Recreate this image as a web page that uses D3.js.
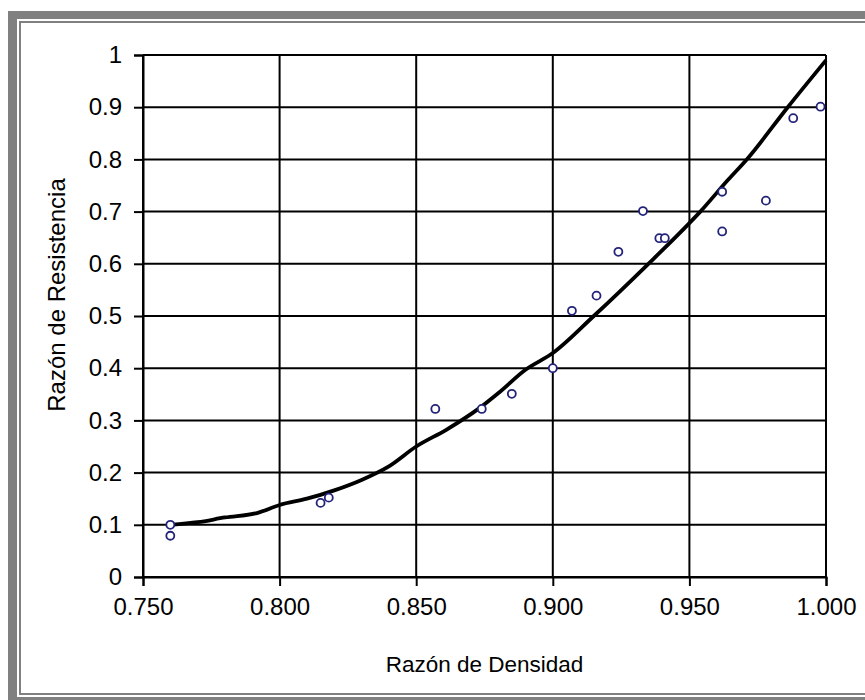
<!DOCTYPE html>
<html lang="es">
<head>
  <meta charset="UTF-8" />
  <title>Razón de Resistencia vs Razón de Densidad</title>
  <style>
    body {
      margin: 0;
      background: #fff;
    }
    svg {
      display: block;
      font-family: "Liberation Sans", Arial, sans-serif;
    }
  </style>
</head>
<body>
  <svg width="865" height="700"></svg>

  <script src="https://cdnjs.cloudflare.com/ajax/libs/d3/7.8.5/d3.min.js"></script>
  <script>
    // measured points (Razón de Densidad, Razón de Resistencia)
    const densidad = [0.760, 0.760, 0.815, 0.818, 0.857, 0.874, 0.885, 0.900,
                      0.907, 0.916, 0.924, 0.933, 0.939, 0.941, 0.962, 0.962,
                      0.978, 0.988, 0.998];
    const resistencia = [0.100, 0.079, 0.142, 0.152, 0.322, 0.322, 0.351, 0.400,
                         0.510, 0.539, 0.623, 0.701, 0.649, 0.649, 0.738, 0.662,
                         0.721, 0.879, 0.901];

    // fitted curve
    const curvaX = [0.760, 0.770, 0.780, 0.792, 0.800, 0.810, 0.820, 0.830, 0.840,
                    0.850, 0.861, 0.873, 0.880, 0.890, 0.900, 0.915, 0.935, 0.950,
                    0.954, 0.964, 0.971, 0.986, 1.000];
    const curvaY = [0.100, 0.105, 0.114, 0.123, 0.138, 0.150, 0.166, 0.186, 0.212,
                    0.250, 0.282, 0.323, 0.352, 0.397, 0.429, 0.500, 0.600, 0.678,
                    0.700, 0.760, 0.800, 0.900, 0.990];

    const xTicks = [0.75, 0.80, 0.85, 0.90, 0.95, 1.00];
    const yTicks = [0, 0.1, 0.2, 0.3, 0.4, 0.5, 0.6, 0.7, 0.8, 0.9, 1];

    const svg = d3.select("svg");

    // page frame (gray double border)
    svg.append("rect").attr("x", 8).attr("y", 11).attr("width", 900).attr("height", 720).attr("fill", "#808080");
    svg.append("rect").attr("x", 17).attr("y", 19).attr("width", 900).attr("height", 678).attr("fill", "#fff");
    svg.append("rect").attr("x", 19).attr("y", 21).attr("width", 900).attr("height", 674).attr("fill", "#808080");
    svg.append("rect").attr("x", 21).attr("y", 23).attr("width", 900).attr("height", 670).attr("fill", "#fff");

    const mLeft = 143, mRight = 826, mTop = 55, mBottom = 577;

    const x = d3.scaleLinear().domain([0.75, 1.0]).range([mLeft, mRight]);
    const y = d3.scaleLinear().domain([0, 1]).range([mBottom, mTop]);

    // gridlines
    const grid = svg.append("g").attr("stroke", "#000").attr("stroke-width", 2);
    grid.selectAll("line.v")
      .data(xTicks)
      .join("line")
      .attr("class", "v")
      .attr("x1", d => x(d)).attr("x2", d => x(d))
      .attr("y1", mTop).attr("y2", mBottom);
    grid.selectAll("line.h")
      .data(yTicks)
      .join("line")
      .attr("class", "h")
      .attr("x1", mLeft).attr("x2", mRight)
      .attr("y1", d => y(d)).attr("y2", d => y(d));

    // axes
    const xAxis = svg.append("g")
      .attr("transform", `translate(0,${mBottom})`)
      .call(d3.axisBottom(x).tickValues(xTicks).tickFormat(d3.format(".3f")).tickSize(9).tickPadding(12));
    const yAxis = svg.append("g")
      .attr("transform", `translate(${mLeft},0)`)
      .call(d3.axisLeft(y).tickValues(yTicks).tickFormat(d => String(+d.toFixed(1))).tickSize(9).tickPadding(12));

    [xAxis, yAxis].forEach(a => {
      a.select(".domain").attr("stroke", "#000").attr("stroke-width", 2);
      a.selectAll(".tick line").attr("stroke", "#000").attr("stroke-width", 2);
      a.selectAll(".tick text")
        .attr("fill", "#000")
        .style("font-size", "24px")
        .style("font-family", "\"Liberation Sans\", Arial, sans-serif");
    });

    // fitted curve
    const curva = curvaX.map((d, i) => [d, curvaY[i]]);
    svg.append("path")
      .datum(curva)
      .attr("fill", "none")
      .attr("stroke", "#000")
      .attr("stroke-width", 3.8)
      .attr("stroke-linejoin", "round")
      .attr("d", d3.line().curve(d3.curveMonotoneX).x(d => x(d[0])).y(d => y(d[1])));

    // data points
    svg.append("g")
      .selectAll("circle")
      .data(densidad.map((d, i) => [d, resistencia[i]]))
      .join("circle")
      .attr("cx", d => x(d[0]))
      .attr("cy", d => y(d[1]))
      .attr("r", 4)
      .attr("fill", "#fff")
      .attr("stroke", "#23237a")
      .attr("stroke-width", 1.8);

    // axis titles
    svg.append("text")
      .attr("x", (mLeft + mRight) / 2)
      .attr("y", 672)
      .attr("text-anchor", "middle")
      .style("font-size", "22.5px")
      .text("Razón de Densidad");

    svg.append("text")
      .attr("transform", `translate(65,295) rotate(-90)`)
      .attr("text-anchor", "middle")
      .style("font-size", "24px")
      .text("Razón de Resistencia");
  </script>
</body>
</html>
